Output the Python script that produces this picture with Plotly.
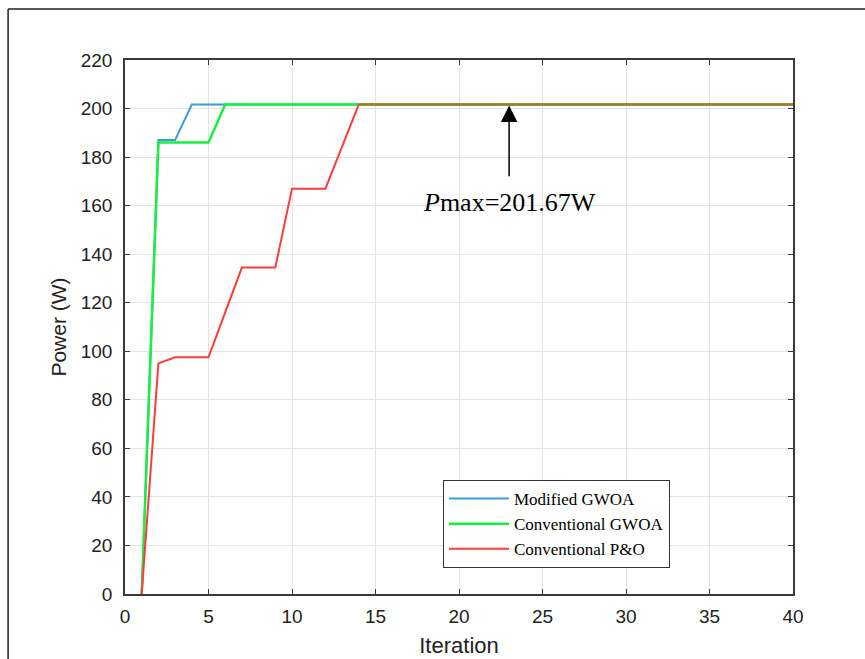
import plotly.graph_objects as go

iterations = list(range(1, 41))
modified_gwoa = [0, 187, 187] + [201.67] * 37
conventional_gwoa = [0, 186, 186, 186, 186] + [201.67] * 35
conventional_po = [0, 95, 97.5, 97.5, 97.5, 116, 134.5, 134.5, 134.5, 167, 167, 167, 184.3] + [201.67] * 27

x_ticks = [0, 5, 10, 15, 20, 25, 30, 35, 40]
y_ticks = list(range(0, 221, 20))

fig = go.Figure()
fig.add_trace(go.Scatter(x=iterations, y=modified_gwoa, mode="lines", name="Modified GWOA",
                         line=dict(color="#3d9bd8", width=2)))
fig.add_trace(go.Scatter(x=iterations, y=conventional_gwoa, mode="lines", name="Conventional GWOA",
                         line=dict(color="#18f040", width=2.5)))
fig.add_trace(go.Scatter(x=iterations[:14], y=conventional_po[:14], mode="lines", name="Conventional P&O",
                         line=dict(color="#ff3b3b", width=2)))
fig.add_trace(go.Scatter(x=iterations[13:], y=conventional_po[13:], mode="lines", showlegend=False,
                         line=dict(color="#b5722f", width=2.5)))

fig.add_annotation(x=23, y=201.67, ax=23, ay=171.5, xref="x", yref="y", axref="x", ayref="y",
                   text="", showarrow=True, arrowhead=2, arrowsize=2.2, arrowwidth=1.5,
                   arrowcolor="black", standoff=1)
fig.add_annotation(x=23.05, y=161.5, xref="x", yref="y", showarrow=False,
                   text="<i>P</i>max=201.67W",
                   font=dict(family="Liberation Serif", size=26, color="black"))

# outer figure frame
fig.add_shape(type="line", xref="paper", yref="paper", x0=-0.175, x1=-0.175, y0=-0.2, y1=1.0955,
              line=dict(color="#222", width=1.5))
fig.add_shape(type="line", xref="paper", yref="paper", x0=-0.175, x1=1.2, y0=1.0955, y1=1.0955,
              line=dict(color="#222", width=1.5))

axis_common = dict(showline=True, linecolor="#3a3a3a", linewidth=1.5, mirror="ticks",
                   ticks="inside", ticklen=5, tickcolor="#3a3a3a", automargin=False,
                   showgrid=True, gridcolor="#e3e3e3", gridwidth=1, zeroline=False,
                   tickfont=dict(family="Liberation Sans", size=19, color="#222"))

fig.update_xaxes(range=[0, 40], tickvals=x_ticks, ticklabelstandoff=4,
                 title=dict(text="Iteration", font=dict(family="Liberation Sans", size=22, color="#222"), standoff=12),
                 **axis_common)
fig.update_yaxes(range=[0, 220], tickvals=y_ticks, ticklabelstandoff=7,
                 title=dict(text="Power (W)", font=dict(family="Liberation Sans", size=21, color="#222"), standoff=8),
                 **axis_common)

fig.update_layout(
    width=865, height=659,
    margin=dict(l=125, r=72, t=60, b=65),
    plot_bgcolor="white", paper_bgcolor="white",
    legend=dict(x=0.476, y=0.2135, xanchor="left", yanchor="top",
                bgcolor="white", bordercolor="#333", borderwidth=1,
                font=dict(family="Liberation Serif", size=17, color="black"),
                tracegroupgap=0, itemwidth=60),
    showlegend=True,
)

fig.write_html("out.html")
